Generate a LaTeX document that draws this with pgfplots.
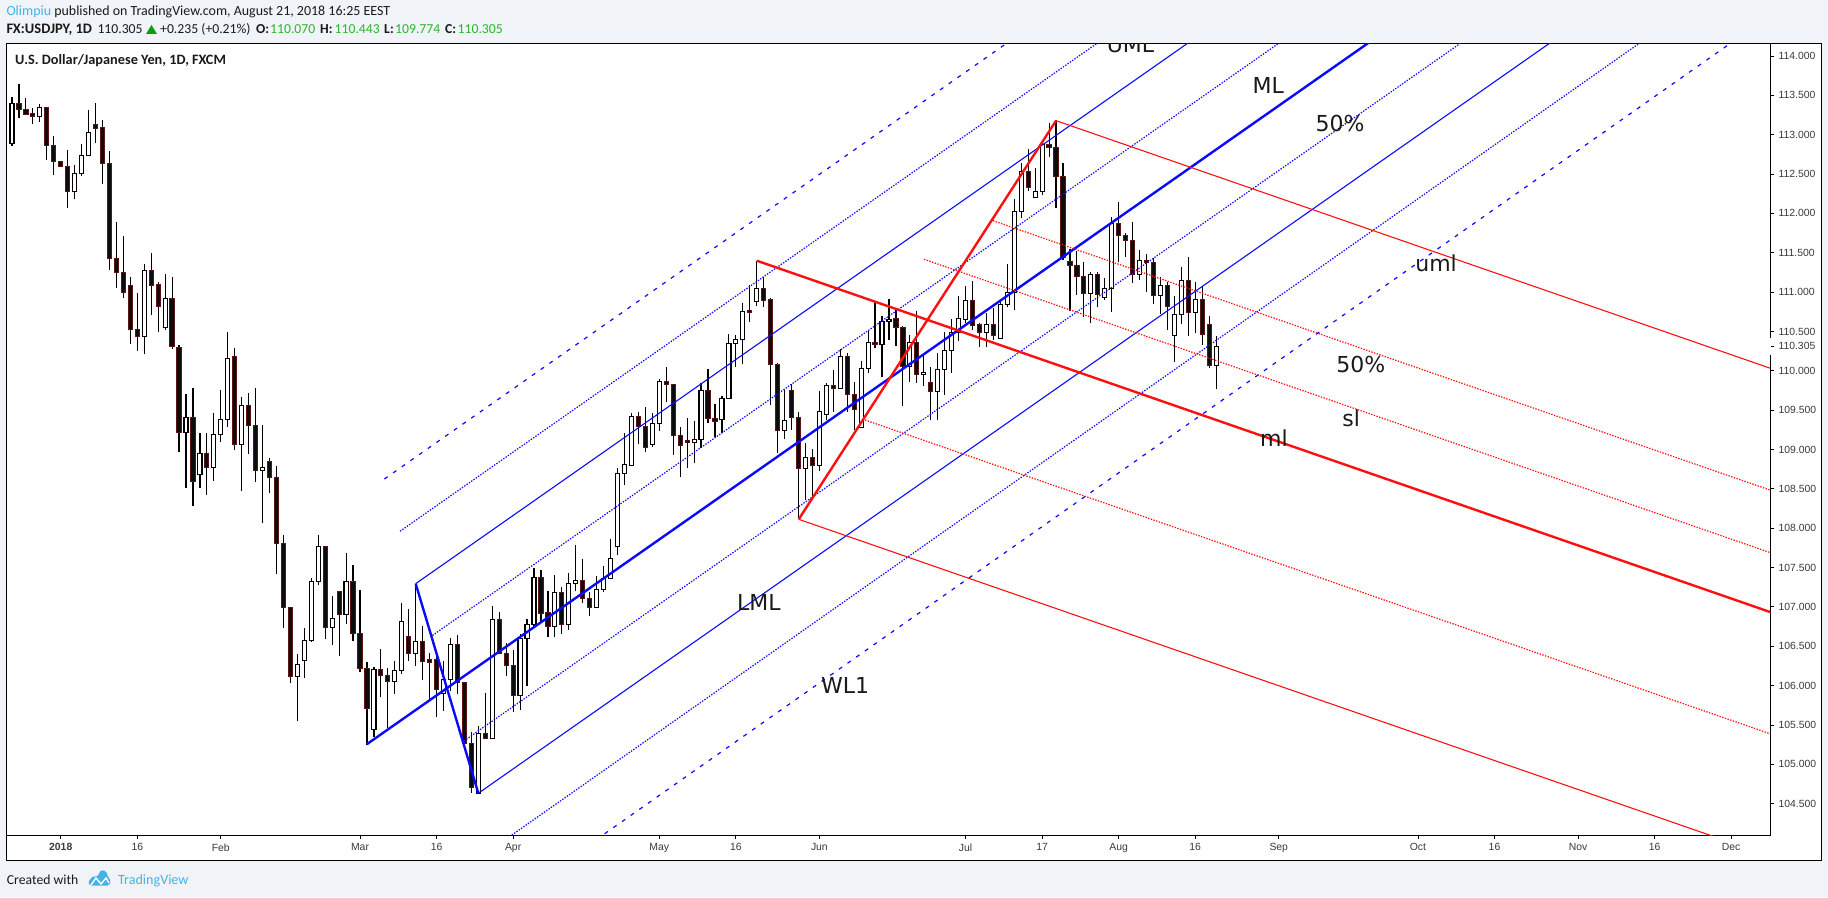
\documentclass[border=0pt]{standalone}
\usepackage{pgfplots}
\usepackage{pgfplotstable}
\pgfplotsset{compat=1.18}
\usepackage{fontspec}
\setmainfont{Carlito}
\newfontfamily\libfont{Liberation Sans}
\newfontfamily\djfont{DejaVu Sans}
\definecolor{pagebg}{HTML}{F0F3F7}
\definecolor{tvblue}{HTML}{45B3E6}
\definecolor{ohlc}{HTML}{2DB52D}
\definecolor{txt}{HTML}{1A1A1A}
\definecolor{ticktxt}{HTML}{3A3A3A}
\definecolor{bodyedge}{HTML}{5A1414}
\definecolor{bodyfill}{HTML}{0C0C0C}
\definecolor{fblue}{HTML}{0A0AFF}
\definecolor{fred}{HTML}{FF1010}
\definecolor{uptri}{HTML}{0A9F0A}
% i high bodytop bodybottom low  -- rising candles
\pgfplotstableread{
i h t b l
0 113.475 113.399 112.886 112.860
4 113.390 113.348 113.229 113.162
9 112.615 112.510 112.276 112.183
10 112.882 112.738 112.505 112.479
11 113.314 113.031 112.733 112.730
19 111.353 111.268 110.435 110.207
22 111.226 110.921 110.547 110.512
25 109.700 109.409 109.216 108.515
27 109.206 108.950 108.679 108.515
29 109.458 109.192 108.770 108.601
30 109.753 109.380 109.187 109.096
31 110.488 110.159 109.380 109.289
33 109.667 109.559 109.061 108.467
36 109.308 108.770 108.732 108.060
41 106.402 106.270 106.115 105.553
42 106.738 106.575 106.318 106.100
43 107.373 107.324 106.570 106.559
44 107.910 107.769 107.324 107.281
46 107.140 106.854 106.738 106.521
48 107.686 107.324 106.904 106.783
52 106.241 106.206 105.441 105.345
55 106.313 106.192 106.051 105.893
56 107.044 106.816 106.192 106.148
58 107.295 106.559 106.404 106.254
62 106.313 106.081 105.903 105.678
63 106.601 106.525 106.081 105.932
67 105.487 105.394 104.632 104.631
69 107.012 106.843 105.331 105.328
73 106.652 106.592 105.872 105.690
74 106.847 106.774 106.601 105.999
75 107.491 107.376 106.779 106.749
78 107.406 107.186 106.749 106.622
80 107.427 107.300 106.779 106.707
81 107.787 107.338 107.300 107.206
84 107.393 107.224 106.995 106.993
85 107.520 107.359 107.224 107.193
86 107.863 107.618 107.364 107.361
87 108.769 108.698 107.770 107.660
88 109.206 108.812 108.698 108.549
89 109.460 109.422 108.803 108.794
92 109.460 109.333 109.061 109.028
93 109.892 109.867 109.333 109.239
98 109.359 109.130 109.087 108.833
99 109.841 109.753 109.130 109.016
102 109.680 109.651 109.384 109.206
103 110.464 110.350 109.651 109.648
104 110.455 110.401 110.350 110.052
105 110.866 110.756 110.401 110.087
107 111.399 111.048 110.883 110.824
111 109.756 109.371 109.244 109.138
114 109.079 108.901 108.761 108.359
116 109.740 109.486 108.800 108.731
117 109.849 109.816 109.447 109.375
119 110.273 110.184 109.778 109.775
122 110.121 110.032 109.282 109.280
123 110.506 110.357 110.032 109.968
125 110.696 110.629 110.337 109.925
126 110.912 110.654 110.629 110.392
129 110.455 110.362 110.052 109.862
131 110.223 109.981 109.953 109.811
133 110.227 110.019 109.735 109.375
134 110.489 110.261 110.019 109.693
135 110.654 110.489 110.256 109.976
136 110.951 110.667 110.489 110.383
137 111.078 110.896 110.654 110.607
140 110.738 110.591 110.489 110.299
142 110.900 110.845 110.413 110.400
143 111.357 110.998 110.845 110.807
144 112.183 112.027 110.998 110.773
145 112.637 112.535 112.027 111.938
147 112.573 112.281 112.205 112.202
148 112.895 112.878 112.276 112.234
155 111.252 111.226 110.985 110.604
157 111.175 111.048 110.934 110.900
158 111.958 111.874 111.048 110.751
162 111.535 111.404 111.230 111.154
165 111.188 111.087 110.960 110.722
167 110.951 110.718 110.451 110.116
168 111.315 111.150 110.718 110.595
170 111.125 110.909 110.744 110.477
173 110.443 110.305 110.070 109.774
}\upcandles
% falling candles
\pgfplotstableread{
i h t b l
1 113.644 113.399 113.318 113.209
2 113.466 113.323 113.263 113.250
3 113.339 113.272 113.229 113.136
5 113.352 113.348 112.860 112.679
6 112.984 112.865 112.657 112.488
7 112.666 112.662 112.594 112.590
8 112.806 112.599 112.276 112.073
12 113.403 113.132 113.085 112.898
13 113.187 113.094 112.637 112.374
14 112.793 112.637 111.430 111.281
15 111.891 111.430 111.247 111.052
16 111.713 111.247 110.998 110.925
17 111.188 111.087 110.522 110.343
18 110.989 110.527 110.435 110.257
20 111.493 111.268 111.090 110.703
21 111.132 111.099 110.816 110.498
23 111.188 110.921 110.309 110.271
24 110.333 110.300 109.216 108.974
26 109.778 109.409 108.592 108.287
28 109.206 108.950 108.770 108.427
32 110.285 110.183 109.061 108.998
34 109.719 109.559 109.303 108.941
35 109.787 109.308 108.732 108.587
37 108.892 108.848 108.644 108.448
38 108.785 108.644 107.803 107.421
39 107.914 107.803 106.995 106.738
40 107.000 106.995 106.115 106.037
45 107.774 107.769 106.738 106.594
47 107.202 107.198 106.904 106.376
49 107.527 107.324 106.661 106.570
50 107.213 106.661 106.216 106.168
51 106.300 106.216 105.708 105.248
53 106.463 106.206 106.124 105.853
54 106.230 106.129 106.051 105.457
57 106.971 106.627 106.404 106.313
59 106.754 106.559 106.303 106.071
60 106.415 106.326 106.300 105.820
61 106.389 106.326 105.953 105.605
64 106.639 106.525 106.042 105.890
65 106.046 106.042 105.267 105.258
66 105.407 105.267 104.703 104.636
68 105.903 105.394 105.331 105.322
70 106.932 106.843 106.411 106.402
71 106.538 106.411 106.258 106.126
72 106.453 106.258 105.872 105.669
76 107.469 107.376 106.919 106.792
77 107.202 106.932 106.749 106.622
79 107.257 107.186 106.779 106.656
82 107.609 107.338 107.110 107.046
83 107.190 107.110 106.995 106.889
90 109.473 109.422 109.290 109.070
91 109.536 109.295 109.028 108.972
94 110.045 109.867 109.824 109.608
95 109.833 109.829 109.181 108.930
96 109.282 109.181 109.048 108.655
97 109.397 109.108 109.087 108.769
100 110.019 109.753 109.392 109.333
101 109.578 109.397 109.359 109.155
106 111.090 110.760 110.738 110.624
108 111.188 111.048 110.891 110.815
109 110.921 110.900 110.083 109.566
110 110.096 110.083 109.244 108.960
112 109.833 109.753 109.409 109.248
113 109.477 109.409 108.761 108.113
115 109.003 108.901 108.800 108.401
118 110.010 109.816 109.773 109.481
120 110.223 110.184 109.697 109.481
121 109.858 109.702 109.511 109.248
124 110.866 110.357 110.332 110.286
127 110.773 110.667 110.553 110.319
128 110.569 110.553 110.052 109.557
130 110.764 110.362 109.956 109.849
132 110.045 109.849 109.735 109.375
138 111.141 110.896 110.573 110.518
139 110.611 110.582 110.484 110.299
141 110.795 110.591 110.446 110.392
146 112.815 112.535 112.332 112.289
149 113.153 112.878 112.835 112.721
150 113.187 112.840 112.472 112.073
151 112.637 112.472 111.437 111.408
152 111.548 111.392 111.336 110.764
153 111.522 111.341 111.196 110.963
154 111.386 111.201 110.985 110.680
156 111.252 111.226 110.967 110.815
159 112.149 111.874 111.722 111.386
160 111.747 111.722 111.658 111.450
161 111.887 111.658 111.230 111.120
163 111.484 111.404 111.374 111.005
164 111.430 111.379 110.963 110.849
166 111.132 111.087 110.815 110.519
169 111.442 111.150 110.744 110.442
171 111.061 110.909 110.459 110.328
172 110.696 110.591 110.070 110.032
}\downcandles
\begin{document}
\begin{tikzpicture}[x=1pt,y=1pt]
\path[use as bounding box,fill=pagebg] (0,0) rectangle (1828,897);
\fill[white] (6.3,36.7) rectangle (1821.5,853.3);
\draw[black,line width=1.1pt] (6.3,36.7) rectangle (1821.5,853.3);
\begin{axis}[
  at={(6.3pt,61.7pt)},anchor=south west,
  scale only axis,width=1764pt,height=791.6pt,
  xmin=-0.819,xmax=252.63,ymin=104.098,ymax=114.156,
  axis line style={black,line width=1.1pt},
  tick style={black,line width=0.9pt},
  tick align=outside,major tick length=3.5pt,
  xtick pos=bottom,ytick pos=right,
  yticklabel pos=right,
  xtick={7,18,30,50,61,72,93,104,116,137,148,159,170,182,202,213,225,236,247},
  xticklabels={\textbf{2018},16,Feb,Mar,16,Apr,May,16,Jun,Jul,17,Aug,16,Sep,Oct,16,Nov,16,Dec},
  ytick={104.5,105,105.5,106,106.5,107,107.5,108,108.5,109,109.5,110,110.5,111,111.5,112,112.5,113,113.5,114},
  extra y ticks={110.305},
  extra y tick labels={},
  /pgf/number format/fixed,
  /pgf/number format/fixed zerofill,
  /pgf/number format/precision=3,
  /pgf/number format/1000 sep={},
  /pgf/number format/assume math mode=true,
  ticklabel style={font=\libfont\fontsize{10.4}{12}\selectfont,text=ticktxt,inner sep=0pt},
  xticklabel style={yshift=-4.5pt},
  yticklabel style={anchor=west,xshift=4.5pt},
]
% wicks
\addplot[quiver={u=0,v=\thisrow{h}-\thisrow{l}},black,line width=1.15pt] table[x=i,y=l]{\upcandles};
\addplot[quiver={u=0,v=\thisrow{h}-\thisrow{l}},black,line width=1.15pt] table[x=i,y=l]{\downcandles};
% bodies, rising
\addplot[quiver={u=0,v=\thisrow{t}-\thisrow{b}+0.014},black,line width=5.2pt] table[x=i,y expr=\thisrow{b}-0.007]{\upcandles};
\addplot[quiver={u=0,v=\thisrow{t}-\thisrow{b}-0.010},white,line width=2.9pt] table[x=i,y expr=\thisrow{b}+0.005]{\upcandles};
% bodies, falling
\addplot[quiver={u=0,v=\thisrow{t}-\thisrow{b}+0.014},bodyedge,line width=5.2pt] table[x=i,y expr=\thisrow{b}-0.007]{\downcandles};
\addplot[quiver={u=0,v=\thisrow{t}-\thisrow{b}-0.010},bodyfill,line width=3.2pt] table[x=i,y expr=\thisrow{b}+0.005]{\downcandles};
% blue pitchfork
\addplot[fblue,line width=2.4pt] coordinates {(58.0,107.295) (67.0,104.632)};
\addplot[fblue,line width=2.4pt] coordinates {(50.96,105.254) (203.7,114.712)};
\addplot[fblue,line width=1.1pt] coordinates {(58.0,107.295) (177.8,114.712)};
\addplot[fblue,line width=1.1pt] coordinates {(67.0,104.632) (229.8,114.712)};
\addplot[fblue,line width=1.2pt,dash pattern=on 1.4pt off 1.4pt] coordinates {(60.4,106.637) (190.9,114.712)};
\addplot[fblue,line width=1.2pt,dash pattern=on 1.4pt off 1.4pt] coordinates {(64.94,105.297) (217.0,114.712)};
\addplot[fblue,line width=1.2pt,dash pattern=on 1.4pt off 1.4pt] coordinates {(55.75,107.961) (164.8,114.712)};
\addplot[fblue,line width=1.2pt,dash pattern=on 1.4pt off 1.4pt] coordinates {(70.83,104.04) (234.9,114.229)};
\addplot[fblue,line width=1.2pt,dash pattern=on 4pt off 6.6pt] coordinates {(53.5,108.625) (151.8,114.712)};
\addplot[fblue,line width=1.2pt,dash pattern=on 4pt off 6.6pt] coordinates {(83.9,104.04) (248.0,114.229)};
% red pitchfork
\addplot[fred,line width=2.4pt] coordinates {(150.0,113.178) (113.03,108.113)};
\addplot[fred,line width=2.4pt] coordinates {(107.0,111.399) (256.9,106.803)};
\addplot[fred,line width=1.1pt] coordinates {(150.0,113.178) (256.9,109.901)};
\addplot[fred,line width=1.1pt] coordinates {(113.03,108.113) (256.9,103.702)};
\addplot[fred,line width=1.2pt,dash pattern=on 1.4pt off 1.4pt] coordinates {(140.95,111.907) (256.9,108.352)};
\addplot[fred,line width=1.2pt,dash pattern=on 1.4pt off 1.4pt] coordinates {(131.03,111.417) (256.9,107.558)};
\addplot[fred,line width=1.2pt,dash pattern=on 1.4pt off 1.4pt] coordinates {(122.56,109.375) (256.9,105.256)};
% labels
\begin{scope}[every node/.style={font=\djfont\fontsize{22}{24}\selectfont,text=txt,inner sep=0pt}]
\node at (axis cs:160.7,114.14) {UML};
\node at (axis cs:180.5,113.619) {ML};
\node at (axis cs:190.8,113.141) {50\%};
\node at (axis cs:204.6,111.364) {uml};
\node at (axis cs:193.8,110.074) {50\%};
\node at (axis cs:192.4,109.393) {sl};
\node at (axis cs:181.3,109.146) {ml};
\node at (axis cs:107.3,107.05) {LML};
\node at (axis cs:119.7,106.0) {WL1};
\end{scope}
\end{axis}
% gap of the price scale round the last-price label
\fill[white] (1769.4,542) rectangle (1771,559);
\node[anchor=base west,inner sep=0pt,font=\libfont\fontsize{10.4}{12}\selectfont,text=ticktxt] at (1778.3,547.2) {110.305};
% header
\begin{scope}[every node/.style={anchor=base west,inner sep=0pt,font=\fontsize{13.7}{15}\selectfont,text=txt}]
\node[font=\fontsize{13.95}{15}\selectfont] at (6.3,881) {\textcolor{tvblue}{Olimpiu} published on TradingView.com, August 21, 2018 16:25 EEST};
\node[font=\fontsize{14.5}{15}\selectfont] at (6.3,863) {\textbf{FX:USDJPY, 1D}};
\node at (97.3,863) {110.305};
\fill[uptri] (146,863) -- (157,863) -- (151.5,872) -- cycle;
\node at (160,863) {+0.235 (+0.21\%)};
\node at (256,863) {\textbf{O:}};
\node[text=ohlc] at (270,863) {110.070};
\node at (320,863) {\textbf{H:}};
\node[text=ohlc] at (334.5,863) {110.443};
\node at (384,863) {\textbf{L:}};
\node[text=ohlc] at (395,863) {109.774};
\node at (445,863) {\textbf{C:}};
\node[text=ohlc] at (457.5,863) {110.305};
\node[font=\fontsize{14.3}{15}\selectfont] at (15,832) {\textbf{U.S. Dollar/Japanese Yen, 1D, FXCM}};
\node at (6.7,13) {Created with};
\node[text=tvblue,font=\fontsize{14.1}{15}\selectfont] at (118,13) {TradingView};
\end{scope}
% logo
\fill[tvblue,rounded corners=1.5pt] (88,15) -- (93,21) -- (97,20) -- (101,27) -- (106,26) -- (108,20) -- (111,16) -- (109,11.5) -- (90,11.5) -- cycle;
\draw[white,line width=1.4pt] (91,12) -- (96,19) -- (101,13) -- (106,19) -- (109,14);
\end{tikzpicture}
\end{document}
